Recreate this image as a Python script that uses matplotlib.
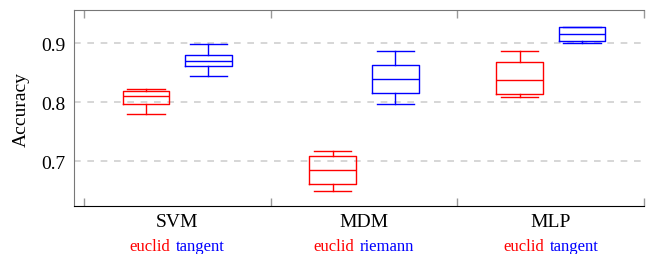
import numpy as np
import matplotlib
matplotlib.use("Agg")
import matplotlib.pyplot as plt
import matplotlib.transforms as mtransforms
from matplotlib.offsetbox import TextArea, HPacker, AnnotationBbox

plt.rcParams['font.family'] = ['Liberation Serif', 'DejaVu Serif']

### data
classifiers = ['SVM', 'MDM', 'MLP']
variants = [('euclid', 'tangent'), ('euclid', 'riemann'), ('euclid', 'tangent')]
# whislo, q1, med, q3, whishi
euclid_stats = [[0.780, 0.797, 0.811, 0.819, 0.823],
                [0.650, 0.662, 0.685, 0.708, 0.717],
                [0.809, 0.813, 0.838, 0.868, 0.886]]
other_stats = [[0.845, 0.861, 0.870, 0.880, 0.899],
               [0.796, 0.815, 0.839, 0.863, 0.886],
               [0.900, 0.903, 0.916, 0.928, 0.928]]

RED = '#ff0000'
BLUE = '#0000ff'


def to_bxp(vals):
    lo, q1, med, q3, hi = vals
    return dict(whislo=lo, q1=q1, med=med, q3=q3, whishi=hi, fliers=[])


fig = plt.figure(figsize=(6.46, 2.55), dpi=100)
ax = fig.add_axes([0.1146, 0.188, 0.8824, 0.769])

pos = np.arange(1, len(classifiers) + 1)
off = 0.167
for stats, shift, col in [(euclid_stats, -off, RED), (other_stats, off, BLUE)]:
    lp = dict(color=col, linewidth=1.0)
    ax.bxp([to_bxp(s) for s in stats], positions=pos + shift, widths=0.25,
           capwidths=0.2, showfliers=False, boxprops=lp, medianprops=lp,
           whiskerprops=lp, capprops=lp, manage_ticks=False, zorder=3)

ax.set_xlim(0.447, 3.5)
ax.set_ylim(0.624, 0.956)
ax.set_yticks([0.7, 0.8, 0.9])
ax.set_yticklabels(['0.7', '0.8', '0.9'])
ax.yaxis.grid(True, color='#d0d0d0', linestyle=(0, (4, 4)), linewidth=1.2, zorder=0)
ax.set_axisbelow(True)
ax.tick_params(axis='y', length=0, pad=6.5, labelsize=14)
ax.set_xticks(np.arange(0.5, 3.6, 1.0))
ax.set_xticklabels([])
ax.tick_params(axis='x', direction='in', length=6, color='#999999', top=True, width=1)
ax.set_ylabel('Accuracy', fontsize=14, labelpad=8)

ax.spines['right'].set_visible(False)
ax.spines['left'].set_color('#777777')
ax.spines['top'].set_color('#777777')
ax.spines['bottom'].set_color('black')

trans = mtransforms.blended_transform_factory(ax.transData, ax.transAxes)
for p, name, (v1, v2) in zip(pos, classifiers, variants):
    ax.text(p, -0.08, name, transform=trans, ha='center', va='center', fontsize=14)
    t1 = TextArea(v1, textprops=dict(color=RED, fontsize=12))
    t2 = TextArea(v2, textprops=dict(color=BLUE, fontsize=12))
    box = HPacker(children=[t1, t2], align='baseline', pad=0, sep=4)
    ab = AnnotationBbox(box, (p, -0.205), xycoords=trans, frameon=False,
                        box_alignment=(0.5, 0.5), pad=0, annotation_clip=False)
    ax.add_artist(ab)

plt.savefig('out.png', dpi=100)
